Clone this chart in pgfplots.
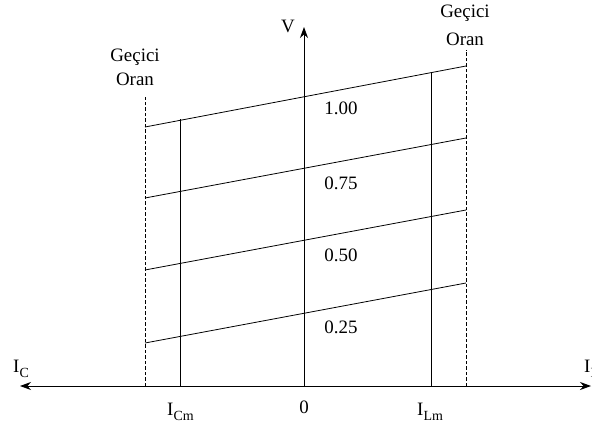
\documentclass[border=0pt]{standalone}
\usepackage{pgfplots}
\pgfplotsset{compat=1.18}
\usepackage{fontspec}
\setmainfont{Liberation Serif}
\usetikzlibrary{arrows.meta}

% current label: I with a lowered, smaller subscript
\newcommand{\cur}[1]{I\raisebox{-0.3em}{\fontsize{14}{14}\selectfont #1}}

\begin{document}
\begin{tikzpicture}
\begin{axis}[
  x=1bp, y=1bp,
  xmin=-304, xmax=288, ymin=-40, ymax=386,
  hide axis, clip=false, scale only axis,
  cycle list={{black, solid}},
  every axis plot/.append style={black, line width=0.8pt, no markers},
  nodes={font=\fontsize{19}{22}\selectfont, inner sep=0pt},
]
\coordinate (bl) at (rel axis cs:0,0);
\coordinate (tr) at (rel axis cs:1,1);

% axes
\addplot[{Stealth[length=11bp,width=8bp]}-{Stealth[length=11bp,width=8bp]}]
  coordinates {(-284,0) (287,0)};
\addplot[-{Stealth[length=11bp,width=8bp]}] coordinates {(0,0) (0,359)};

% transient limits
\addplot[dash pattern=on 3.5bp off 2bp] coordinates {(-159,0) (-159,289)};
\addplot[dash pattern=on 3.5bp off 2bp] coordinates {(162,0) (162,336)};

% current limits
\addplot[solid] coordinates {(-124,0) (-124,267)};
\addplot[solid] coordinates {(127,0) (127,314)};

% voltage lines
\addplot[solid] coordinates {(-159,259) (162,320)};
\addplot[solid] coordinates {(-159,188) (162,248)};
\addplot[solid] coordinates {(-159,116) (162,176)};
\addplot[solid] coordinates {(-159,43)  (162,103)};

% labels
\node at (axis cs:37,278) {1.00};
\node at (axis cs:37,203) {0.75};
\node at (axis cs:37,131) {0.50};
\node at (axis cs:37,59)  {0.25};

\node[anchor=base] at (axis cs:-16,353) {V};
\node[anchor=base] at (axis cs:0,-27) {0};

\node[anchor=base west] at (axis cs:-291,14) {\cur{C}};
\node[anchor=base west] at (axis cs:280,14) {\cur{L}};
\node[anchor=base west] at (axis cs:-137,-29) {\cur{Cm}};
\node[anchor=base west] at (axis cs:113,-29) {\cur{Lm}};

\node[anchor=base] at (axis cs:-169,325) {Geçici};
\node[anchor=base] at (axis cs:-169,301) {Oran};
\node[anchor=base] at (axis cs:161,368) {Geçici};
\node[anchor=base] at (axis cs:161,341) {Oran};
\end{axis}
\pgfresetboundingbox
\path (bl) rectangle (tr);
\end{tikzpicture}
\end{document}
